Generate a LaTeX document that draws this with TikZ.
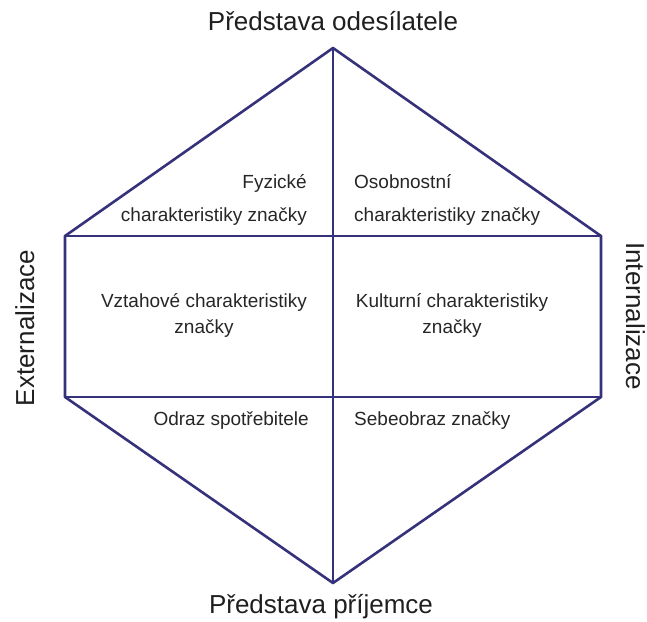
\documentclass[tikz,border=0pt]{standalone}
\usepackage{fontspec}
\setmainfont{Liberation Sans}
\begin{document}
\begin{tikzpicture}[x=1pt,y=-1pt,
  edge/.style={draw=hexcol,line width=2.6pt,line join=round,line cap=round},
  big/.style={font=\fontsize{26}{30}\selectfont,text=black!88,inner sep=0pt},
  cell/.style={font=\fontsize{19}{22}\selectfont,text=black!85,inner sep=0pt}]
\definecolor{hexcol}{HTML}{35317A}
\useasboundingbox (0,0) rectangle (647,621);
\coordinate (T) at (333,48);
\coordinate (LT) at (65,236);
\coordinate (RT) at (601,236);
\coordinate (LB) at (65,397);
\coordinate (RB) at (601,397);
\coordinate (B) at (333,583);
\draw[edge] (T) -- (RT) -- (RB) -- (B) -- (LB) -- (LT) -- cycle;
\draw[edge] (T) -- (B);
\draw[edge] (LT) -- (RT);
\draw[edge] (LB) -- (RB);
\node[big,anchor=base] (top) at (333,30) {Představa odesílatele};
\node[big,anchor=base] (bot) at (321,613) {Představa příjemce};
\node[big,rotate=90,anchor=base] (ext) at (34,328) {Externalizace};
\node[big,rotate=-90,anchor=base] (int) at (626,316) {Internalizace};
\node[cell,anchor=base east] (fyz1) at (307,188) {Fyzické};
\node[cell,anchor=base east] (fyz2) at (307,221) {charakteristiky značky};
\node[cell,anchor=base west] (oso1) at (354,188) {Osobnostní};
\node[cell,anchor=base west] (oso2) at (354,221) {charakteristiky značky};
\node[cell,anchor=base] (vzt1) at (204,307) {Vztahové charakteristiky};
\node[cell,anchor=base] (vzt2) at (204,333) {značky};
\node[cell,anchor=base] (kul1) at (452,307) {Kulturní charakteristiky};
\node[cell,anchor=base] (kul2) at (452,333) {značky};
\node[cell,anchor=base east] (odr) at (309,425) {Odraz spotřebitele};
\node[cell,anchor=base west] (seb) at (354,425) {Sebeobraz značky};
\end{tikzpicture}
\end{document}
